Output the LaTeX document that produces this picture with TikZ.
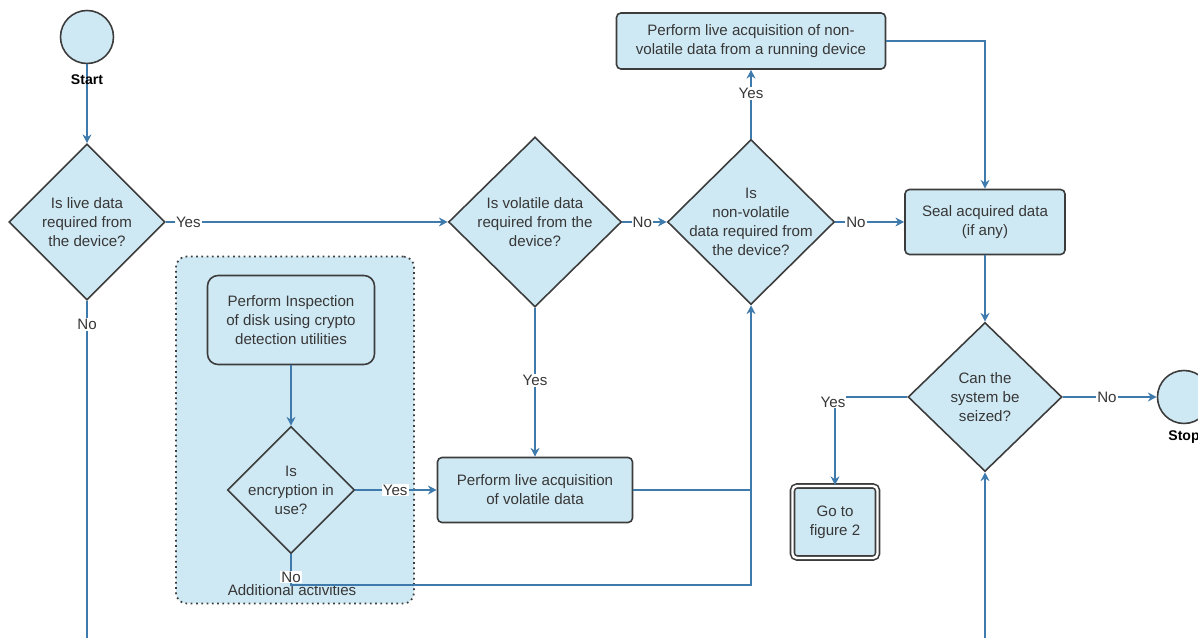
\documentclass[tikz,border=0pt]{standalone}
\usepackage{fontspec}
\setmainfont{Liberation Sans}
\usetikzlibrary{shapes.geometric,arrows.meta}
\definecolor{lblue}{RGB}{207,233,244}
\definecolor{conncol}{RGB}{62,122,172}
\definecolor{bord}{RGB}{60,60,60}
\definecolor{txt}{RGB}{55,55,55}
\begin{document}
\begin{tikzpicture}[x=0.02cm,y=-0.02cm,
 every node/.style={font=\fontsize{8.6}{10.8}\selectfont, text=txt},
 box/.style={draw=bord, fill=lblue, line width=0.9pt, rounded corners=2.5pt, align=center, inner sep=0pt},
 dia/.style={diamond, draw=bord, fill=lblue, line width=0.9pt, inner sep=0pt},
 dtext/.style={align=center},
 term/.style={circle, draw=bord, fill=lblue, line width=0.9pt, inner sep=0pt, minimum size=1.06cm},
 cline/.style={draw=conncol, line width=0.65pt},
 arr/.style={cline, -{Stealth[length=5pt,width=5pt]}},
 lab/.style={fill=white, inner sep=0.6pt, text=txt},
 termlab/.style={font=\fontsize{8}{9}\selectfont\bfseries, text=black}
]
\useasboundingbox (0,0) rectangle (1198,638);

% group
\node[draw=bord, dash pattern=on 1pt off 2pt, line width=1pt, fill=lblue, rounded corners=6pt,
      minimum width=4.76cm, minimum height=6.94cm, inner sep=0pt] (grp) at (295,430) {};
\node (grplab) at (292,590) {Additional activities};

% terminals
\node[term] (start) at (87,37) {};
\node[term] (stop) at (1184,397) {};

% diamonds
\node[dia, minimum width=3.12cm, minimum height=3.12cm,
      label={[dtext]center:Is live data\\required from\\the device?}] (d1) at (87,222) {};
\node[dia, minimum width=3.46cm, minimum height=3.40cm,
      label={[dtext]center:Is volatile data\\required from the\\device?}] (d2) at (535,222) {};
\node[dia, minimum width=3.34cm, minimum height=3.30cm,
      label={[dtext]center:Is\\non-volatile\\data required from\\the device?}] (d3) at (751,222) {};
\node[dia, minimum width=3.08cm, minimum height=2.98cm,
      label={[dtext]center:Can the\\system be\\seized?}] (d4) at (985,397) {};
\node[dia, minimum width=2.54cm, minimum height=2.54cm,
      label={[dtext]center:Is\\encryption in\\use?}] (d5) at (291,490) {};

% boxes
\node[box, minimum width=5.38cm, minimum height=1.12cm] (nonvol) at (751,41)
  {Perform live acquisition of non-\\volatile data from a running device};
\node[box, minimum width=3.2cm, minimum height=1.3cm] (seal) at (985,222)
  {Seal acquired data\\(if any)};
\node[box, rounded corners=6pt, minimum width=3.34cm, minimum height=1.78cm] (insp) at (291,320)
  {Perform Inspection\\of disk using crypto\\detection utilities};
\node[box, minimum width=3.9cm, minimum height=1.3cm] (vol) at (535,490)
  {Perform live acquisition\\of volatile data};
\node[box, double=white, double distance=1.4pt, minimum width=1.7cm, minimum height=1.44cm] (goto) at (835,522)
  {Go to\\figure 2};

% coordinates
\coordinate (b1) at (87,638);
\coordinate (b4) at (985,638);
\coordinate (yc) at (835,397);
\coordinate (nc) at (291,585);

% connectors
\draw[arr] (start) -- (d1.north);
\draw[arr] (d1.east) -- node[lab, pos=0.08] {Yes} (d2.west);
\draw[cline] (d1.south) -- node[lab, pos=0.07] {No} (b1);
\draw[arr] (d2.east) -- node[lab, pos=0.45] {No} (d3.west);
\draw[arr] (d2.south) -- node[lab, pos=0.49] {Yes} (vol.north);
\draw[arr] (d3.north) -- node[lab, pos=0.66] {Yes} (nonvol.south);
\draw[arr] (d3.east) -- node[lab, pos=0.3] {No} (seal.west);
\draw[arr] (nonvol.east) -| (seal.north);
\draw[arr] (seal.south) -- (d4.north);
\draw[arr] (d4.east) -- node[lab, pos=0.47] {No} (stop.west);
\draw[cline] (d4.west) -- (yc);
\draw[arr] (yc) -- (goto.north);
\node[lab] (yeslab) at (833,402) {Yes};
\draw[arr] (b4) -- (d4.south);
\draw[arr] (insp.south) -- (d5.north);
\draw[arr] (d5.east) -- node[lab, pos=0.49] {Yes} (vol.west);
\draw[cline] (vol.east) -- (vol.east -| d3.south);
\draw[arr] (d5.south) -- (nc) -| (d3.south);
\node[lab] (nolab) at (291,577) {No};

% terminal labels
\node[termlab] (startlab) at (87,80) {Start};
\node[termlab] (stoplab) at (1184,437) {Stop};
\end{tikzpicture}
\end{document}
